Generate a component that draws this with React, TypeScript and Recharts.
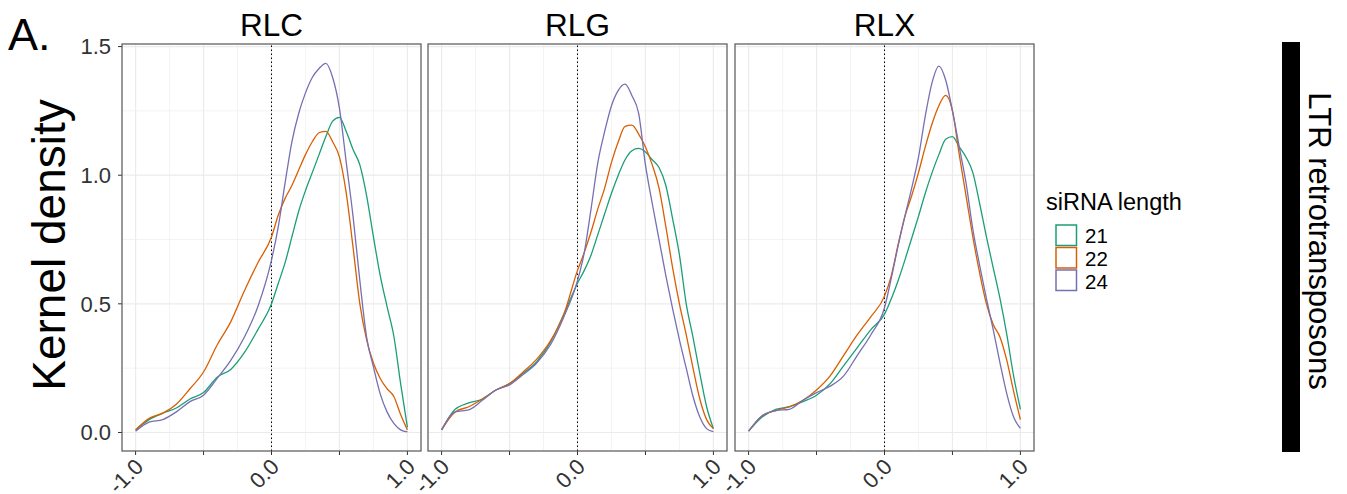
import React from 'react';
import { LineChart, Line, XAxis, YAxis, CartesianGrid, ReferenceLine } from 'recharts';

// x positions (strand bias score) shared by every curve
const xs = [-1, -0.9, -0.8, -0.7, -0.6, -0.5, -0.4, -0.3, -0.2, -0.1, 0, 0.05, 0.1, 0.15, 0.2, 0.25,
  0.3, 0.35, 0.4, 0.45, 0.5, 0.55, 0.6, 0.65, 0.7, 0.75, 0.8, 0.85, 0.9, 0.95, 1];

const families = ['RLC', 'RLG', 'RLX'];
const lengths = ['21', '22', '24'];
const colors = ['#1B9E77', '#D95F02', '#7570B3'];

// kernel density values
const rlc21 = [0.01, 0.05, 0.075, 0.095, 0.13, 0.155, 0.215, 0.245, 0.31, 0.4, 0.5, 0.58, 0.66, 0.76, 0.86, 0.94,
  1.01, 1.08, 1.15, 1.21, 1.225, 1.17, 1.1, 1.04, 0.92, 0.76, 0.61, 0.49, 0.375, 0.19, 0.02];
const rlc22 = [0.01, 0.055, 0.075, 0.11, 0.17, 0.235, 0.34, 0.43, 0.55, 0.66, 0.76, 0.845, 0.91, 0.96, 1.02, 1.08,
  1.13, 1.165, 1.17, 1.13, 1.07, 0.93, 0.72, 0.5, 0.36, 0.27, 0.21, 0.17, 0.14, 0.07, 0.01];
const rlc24 = [0.005, 0.04, 0.05, 0.08, 0.12, 0.145, 0.21, 0.28, 0.37, 0.49, 0.67, 0.8, 0.97, 1.13, 1.24, 1.32,
  1.38, 1.415, 1.435, 1.38, 1.26, 1.05, 0.84, 0.59, 0.37, 0.255, 0.15, 0.08, 0.035, 0.01, 0.002];

const rlg21 = [0.01, 0.09, 0.115, 0.13, 0.165, 0.19, 0.23, 0.275, 0.35, 0.46, 0.58, 0.63, 0.69, 0.77, 0.85, 0.93,
  1.0, 1.06, 1.095, 1.104, 1.09, 1.06, 1.03, 0.96, 0.83, 0.69, 0.5, 0.37, 0.23, 0.1, 0.015];
const rlg22 = [0.01, 0.08, 0.1, 0.13, 0.165, 0.19, 0.235, 0.285, 0.355, 0.46, 0.63, 0.7, 0.78, 0.87, 0.95, 1.05,
  1.13, 1.19, 1.195, 1.16, 1.11, 1.04, 0.95, 0.8, 0.64, 0.5, 0.38, 0.25, 0.13, 0.05, 0.015];
const rlg24 = [0.01, 0.08, 0.088, 0.125, 0.165, 0.185, 0.225, 0.27, 0.34, 0.45, 0.59, 0.7, 0.87, 1.05, 1.17, 1.27,
  1.33, 1.354, 1.31, 1.24, 1.04, 0.89, 0.75, 0.61, 0.48, 0.36, 0.25, 0.14, 0.06, 0.015, 0.003];

const rlx21 = [0.005, 0.06, 0.09, 0.1, 0.12, 0.145, 0.19, 0.26, 0.33, 0.4, 0.46, 0.52, 0.59, 0.67, 0.755, 0.84,
  0.93, 1.01, 1.08, 1.14, 1.15, 1.11, 1.07, 1.01, 0.89, 0.76, 0.64, 0.52, 0.38, 0.22, 0.09];
const rlx22 = [0.005, 0.065, 0.085, 0.1, 0.125, 0.165, 0.22, 0.3, 0.38, 0.45, 0.53, 0.61, 0.73, 0.84, 0.92, 1.01,
  1.11, 1.2, 1.27, 1.31, 1.25, 1.08, 0.92, 0.76, 0.62, 0.5, 0.42, 0.37, 0.28, 0.16, 0.05];
const rlx24 = [0.005, 0.065, 0.085, 0.09, 0.125, 0.155, 0.18, 0.22, 0.3, 0.38, 0.485, 0.6, 0.725, 0.84, 0.95, 1.07,
  1.23, 1.36, 1.424, 1.37, 1.25, 1.11, 0.97, 0.79, 0.65, 0.52, 0.4, 0.27, 0.15, 0.06, 0.016];

const xTicks = [-1, -0.5, 0, 0.5, 1];
const xMinor = [-0.75, -0.25, 0.25, 0.75];
const yTicks = [0, 0.5, 1, 1.5];
const yMinor = [0.25, 0.75, 1.25];

const series = [
  [rlc21, rlc22, rlc24],
  [rlg21, rlg22, rlg24],
  [rlx21, rlx22, rlx24],
];

const FONT = '"Liberation Sans", Arial, sans-serif';
const PLOT_TOP = 44;
const PLOT_BOTTOM = 451;
const PANEL_W = 299;
const Y_AXIS_W = 122;
const PAD = 30; // room for the rotated "-1.0" label of panels 2 and 3
const panelLeft = [122, 428, 735];

const buildRows = (sets) =>
  xs.map((x, i) => {
    const row = { x };
    lengths.forEach((len, k) => { row['l' + len] = sets[k][i]; });
    return row;
  });

const XTick = (props) => {
  const { x, y, payload } = props;
  const v = payload.value;
  const label = v === -1 || v === 0 || v === 1 ? (Math.abs(v) < 1e-9 ? '0.0' : v.toFixed(1)) : '';
  const ax = x + 9;
  const ay = y + 11;
  return (
    <text x={ax} y={ay} textAnchor="end" fontSize={22} fill="#333" fontFamily={FONT}
      transform={`rotate(-45 ${ax} ${ay})`}>{label}</text>
  );
};

const Panel = ({ idx }) => {
  const first = idx === 0;
  const data = buildRows(series[idx]);
  const left = first ? 0 : panelLeft[idx] - PAD;
  const width = first ? Y_AXIS_W + PANEL_W : PANEL_W + PAD;
  return (
    <div style={{ position: 'absolute', left, top: 0 }}>
      <LineChart width={width} height={494} data={data}
        margin={{ top: PLOT_TOP, right: 0, bottom: 0, left: first ? 0 : PAD }}>
        <CartesianGrid stroke="#ebebeb" strokeWidth={0.6} verticalValues={xMinor} horizontalValues={yMinor} />
        <CartesianGrid stroke="#ebebeb" strokeWidth={1.2} verticalValues={xTicks} horizontalValues={yTicks} />
        <XAxis dataKey="x" type="number" domain={[-1.1, 1.1]} ticks={xTicks} allowDataOverflow
          height={494 - PLOT_BOTTOM} axisLine={false} tickLine={{ stroke: '#333' }} tickSize={4}
          tick={<XTick />} interval={0} />
        <YAxis type="number" domain={[-0.072, 1.51]} ticks={yTicks} allowDataOverflow hide={!first}
          width={Y_AXIS_W} axisLine={false} tickLine={{ stroke: '#333' }} tickSize={4} tickMargin={7}
          tickFormatter={(v) => v.toFixed(1)} interval={0}
          tick={{ fontSize: 22, fill: '#333', fontFamily: FONT }} />
        <ReferenceLine x={0} stroke="#000" strokeDasharray="1.5 2.5" strokeWidth={1} />
        {lengths.map((len, k) => (
          <Line key={len} dataKey={'l' + len} type="monotone" stroke={colors[k]} strokeWidth={1.3}
            dot={false} activeDot={false} isAnimationActive={false} />
        ))}
      </LineChart>
    </div>
  );
};

const App = () => {
  return (
    <div style={{ position: 'absolute', left: 0, top: 0, width: 1347, height: 494, background: '#fff', fontFamily: FONT }}>
      {families.map((f, i) => <Panel key={f} idx={i} />)}
      <svg width={1347} height={494} style={{ position: 'absolute', left: 0, top: 0, pointerEvents: 'none' }}>
        {panelLeft.map((l, i) => (
          <rect key={i} x={l} y={PLOT_TOP} width={PANEL_W} height={PLOT_BOTTOM - PLOT_TOP}
            fill="none" stroke="#555" strokeWidth={1.2} />
        ))}
        {families.map((f, i) => (
          <text key={f} x={panelLeft[i] + PANEL_W / 2} y={36} textAnchor="middle" fontSize={31.5}
            fontFamily={FONT} fill="#000">{f}</text>
        ))}
        <text x={8} y={50} fontSize={45} fontFamily={FONT} fill="#000">A.</text>
        <text x={65} y={245} fontSize={46} fontFamily={FONT} fill="#000" textAnchor="middle"
          transform="rotate(-90 65 245)">Kernel density</text>
        <text x={1046} y={210} fontSize={23.5} fontFamily={FONT} fill="#000">siRNA length</text>
        {lengths.map((len, k) => (
          <g key={len}>
            <rect x={1056} y={225 + k * 22.5} width={20.5} height={20.5} fill="#fff" stroke={colors[k]} strokeWidth={1.5} />
            <text x={1085} y={242.5 + k * 23.3} fontSize={20.5} fontFamily={FONT} fill="#000">{len}</text>
          </g>
        ))}
        <rect x={1282} y={42} width={18} height={410} fill="#000" />
        <text x={1309} y={241} fontSize={31} fontFamily={FONT} fill="#000" textAnchor="middle"
          transform="rotate(90 1309 241)">LTR retrotransposons</text>
      </svg>
    </div>
  );
};

export default App;
